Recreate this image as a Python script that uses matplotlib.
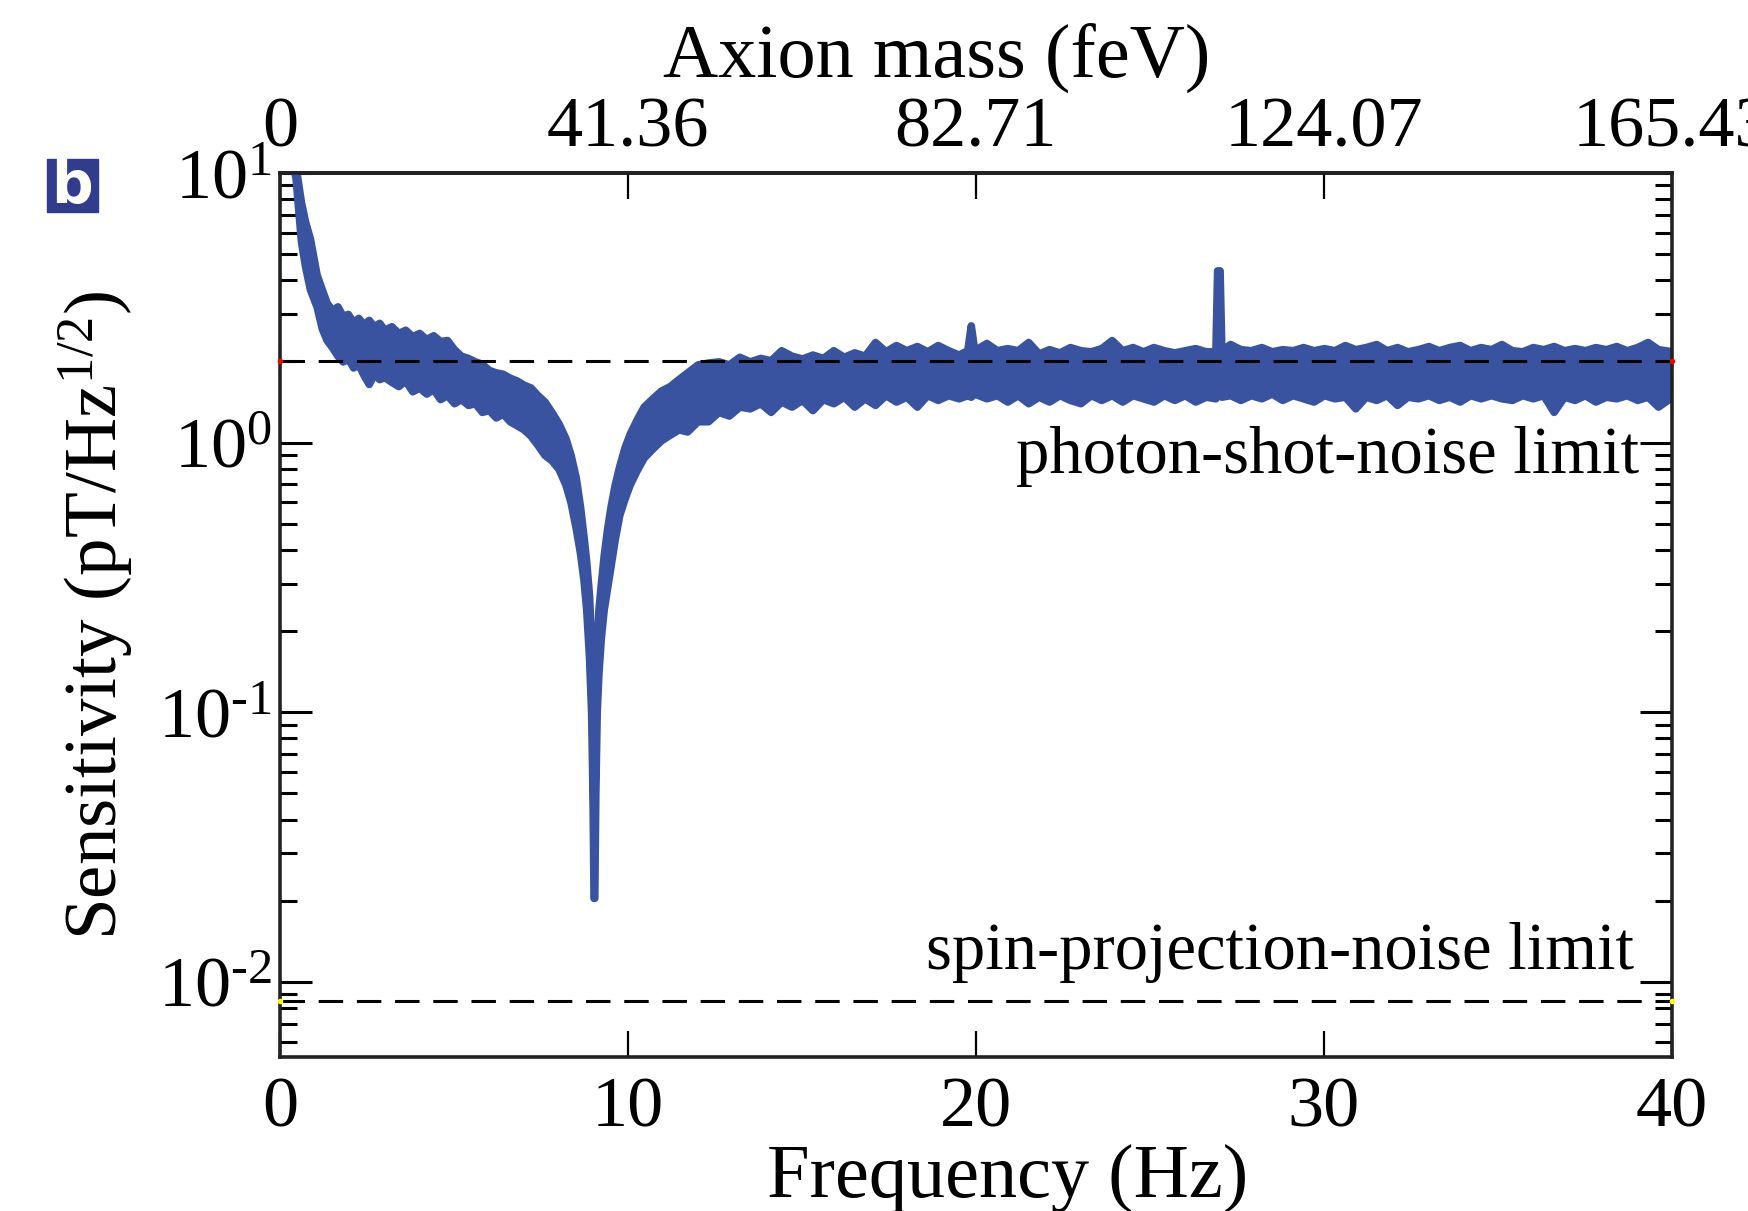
import numpy as np
import matplotlib
matplotlib.use('Agg')
import matplotlib.pyplot as plt
from matplotlib.ticker import LogLocator, NullFormatter, FixedLocator, FixedFormatter
from matplotlib.patches import Rectangle

# --- data (Hz, pT/Hz^1/2) ---
# band edges of the noisy trace: decay part
freq_a = [0.30, 0.45, 0.60, 0.72, 0.86, 1.05, 1.2, 1.34, 1.5, 1.65,
          1.8, 1.95, 2.1, 2.25, 2.4, 2.55, 2.7, 2.85, 3.0, 3.2,
          3.4, 3.6, 3.8, 4.0, 4.2, 4.4, 4.6, 4.8, 5.0, 5.2,
          5.4, 5.6, 5.8, 6.0, 6.2, 6.4, 6.6, 6.8, 7.0, 7.2,
          7.4, 7.6, 7.8, 8.0]
upper_a = [12, 10.5, 7.8, 6.6, 5.7, 4.2, 3.7, 3.3, 3.1, 3.2,
           2.95, 3.0, 2.8, 2.9, 2.75, 2.85, 2.7, 2.78, 2.62, 2.7,
           2.55, 2.62, 2.48, 2.55, 2.42, 2.5, 2.38, 2.4, 2.22, 2.1,
           2.06, 2.0, 1.96, 1.86, 1.82, 1.8, 1.74, 1.7, 1.64, 1.6,
           1.5, 1.42, 1.3, 1.18]
lower_a = [12, 9.5, 5.6, 4.5, 3.7, 3.2, 2.65, 2.4, 2.25, 2.1,
           2.0, 2.05, 1.9, 1.95, 1.78, 1.65, 1.8, 1.72, 1.75, 1.68,
           1.62, 1.7, 1.55, 1.6, 1.52, 1.58, 1.45, 1.5, 1.4, 1.45,
           1.38, 1.4, 1.3, 1.32, 1.24, 1.28, 1.2, 1.16, 1.12, 1.06,
           0.98, 0.9, 0.86, 0.8]

# the resonance dip near 9 Hz
freq_b = [8.2, 8.35, 8.5, 8.62, 8.72, 8.8, 8.88, 8.94, 8.98, 9.01,
          9.03, 9.06, 9.1, 9.15, 9.22, 9.3, 9.4, 9.5, 9.62, 9.75,
          9.9, 10.05, 10.25, 10.45, 10.7, 10.95, 11.2, 11.45, 11.7, 12.0]
upper_b = [1.04, 0.9, 0.74, 0.58, 0.45, 0.36, 0.27, 0.18, 0.1, 0.035,
           0.035, 0.1, 0.17, 0.24, 0.3, 0.38, 0.48, 0.58, 0.7, 0.82,
           0.96, 1.08, 1.22, 1.36, 1.46, 1.56, 1.62, 1.72, 1.82, 1.95]
lower_b = [0.7, 0.6, 0.48, 0.39, 0.31, 0.24, 0.16, 0.1, 0.05, 0.0205,
           0.0205, 0.05, 0.1, 0.14, 0.19, 0.24, 0.29, 0.35, 0.44, 0.54,
           0.62, 0.7, 0.79, 0.88, 0.95, 1.02, 1.07, 1.12, 1.1, 1.2]

# flat part, 12-40 Hz (with the small line at 19.85 Hz and the peak at 27 Hz)
freq_c = [12.3, 12.6, 12.9, 13.2, 13.5, 13.8, 14.1, 14.4, 14.7, 15.0,
          15.3, 15.6, 15.9, 16.2, 16.5, 16.8, 17.1, 17.4, 17.7, 18.0,
          18.3, 18.6, 18.9, 19.2, 19.5, 19.75, 19.85, 19.95, 20.3, 20.6,
          20.9, 21.2, 21.5, 21.8, 22.1, 22.4, 22.7, 23.0, 23.3, 23.6,
          23.9, 24.2, 24.5, 24.8, 25.1, 25.4, 25.7, 26.0, 26.3, 26.6,
          26.88, 26.93, 27.0, 27.05, 27.3, 27.6, 27.9, 28.2, 28.5, 28.8,
          29.1, 29.4, 29.7, 30.0, 30.3, 30.6, 30.9, 31.2, 31.5, 31.8,
          32.1, 32.4, 32.7, 33.0, 33.3, 33.6, 33.9, 34.2, 34.5, 34.8,
          35.1, 35.4, 35.7, 36.0, 36.3, 36.6, 36.9, 37.2, 37.5, 37.8,
          38.1, 38.4, 38.7, 39.0, 39.3, 39.6, 40.0]
upper_c = [1.98, 2.0, 1.95, 2.08, 2.0, 2.06, 2.02, 2.2, 2.1, 2.05,
           2.12, 2.06, 2.2, 2.08, 2.16, 2.1, 2.36, 2.18, 2.3, 2.2,
           2.28, 2.18, 2.3, 2.2, 2.12, 2.2, 2.72, 2.2, 2.34, 2.2,
           2.24, 2.2, 2.36, 2.14, 2.22, 2.16, 2.26, 2.2, 2.18, 2.24,
           2.4, 2.2, 2.26, 2.18, 2.26, 2.2, 2.16, 2.2, 2.24, 2.18,
           2.18, 4.35, 4.35, 2.2, 2.32, 2.22, 2.2, 2.26, 2.18, 2.22,
           2.2, 2.26, 2.2, 2.24, 2.2, 2.3, 2.22, 2.26, 2.32, 2.2,
           2.26, 2.18, 2.22, 2.28, 2.2, 2.26, 2.3, 2.2, 2.26, 2.22,
           2.32, 2.2, 2.18, 2.26, 2.22, 2.28, 2.2, 2.24, 2.2, 2.26,
           2.22, 2.28, 2.2, 2.26, 2.36, 2.22, 2.18]
lower_c = [1.2, 1.3, 1.26, 1.36, 1.34, 1.4, 1.3, 1.42, 1.36, 1.44,
           1.32, 1.45, 1.4, 1.48, 1.36, 1.46, 1.38, 1.5, 1.42, 1.48,
           1.36, 1.5, 1.44, 1.5, 1.46, 1.5, 1.48, 1.52, 1.46, 1.5,
           1.42, 1.5, 1.4, 1.48, 1.42, 1.5, 1.44, 1.4, 1.5, 1.44,
           1.5, 1.42, 1.5, 1.46, 1.42, 1.5, 1.44, 1.5, 1.42, 1.48,
           1.46, 1.5, 1.5, 1.48, 1.5, 1.44, 1.5, 1.46, 1.52, 1.44,
           1.5, 1.46, 1.42, 1.5, 1.46, 1.48, 1.34, 1.48, 1.44, 1.5,
           1.38, 1.48, 1.46, 1.5, 1.44, 1.48, 1.42, 1.5, 1.46, 1.5,
           1.46, 1.44, 1.5, 1.46, 1.5, 1.3, 1.48, 1.44, 1.5, 1.42,
           1.48, 1.46, 1.5, 1.44, 1.48, 1.36, 1.48]

photon_limit = 2.0
spin_limit = 0.0085

freq_ticks = [0, 10, 20, 30, 40]
mass_ticks = [0, 41.36, 82.71, 124.07, 165.43]   # feV, top axis
mass_labels = ['0', '41.36', '82.71', '124.07', '165.43']
y_ticks = [1e-2, 1e-1, 1e0, 1e1]
y_labels = [r'$10^{\text{-}2}$', r'$10^{\text{-}1}$', r'$10^{0}$', r'$10^{1}$']
ev_per_hz = 165.43 / 40

plt.rcParams['font.family'] = ['Liberation Serif', 'DejaVu Serif']
plt.rcParams['mathtext.fontset'] = 'custom'
plt.rcParams['mathtext.rm'] = 'Liberation Serif'
plt.rcParams['mathtext.it'] = 'Liberation Serif:italic'

fig = plt.figure(figsize=(17.48, 12.11), dpi=100)
ax = fig.add_axes([0.1602, 0.1272, 0.7963, 0.7300])

freq = np.concatenate([freq_a, freq_b, freq_c])
upper = np.concatenate([upper_a, upper_b, upper_c])
lower = np.concatenate([lower_a, lower_b, lower_c])

blue = '#3953a0'
ax.fill_between(freq, lower, upper, facecolor=blue, edgecolor=blue,
                linewidth=5.5, joinstyle='round', zorder=2)

ax.axhline(photon_limit, color='k', lw=2.2, dashes=(8, 4.5), zorder=3)
ax.axhline(spin_limit, color='k', lw=2.2, dashes=(8, 4.5), zorder=3)
ax.plot([0, 40], [photon_limit, photon_limit], 'o', color='red', ms=3,
        clip_on=False, zorder=4)
ax.plot([0, 40], [spin_limit, spin_limit], 'o', color='yellow', ms=3,
        clip_on=False, zorder=4)

ax.text(39.05, 0.887, 'photon-shot-noise limit', fontsize=48,
        ha='right', va='center')
ax.text(38.9, 0.0129, 'spin-projection-noise limit', fontsize=48,
        ha='right', va='center')

ax.set_yscale('log')
ax.set_xlim(0, 40)
ax.set_ylim(0.00527, 10)

ax.xaxis.set_major_locator(FixedLocator(freq_ticks))
ax.yaxis.set_major_locator(FixedLocator(y_ticks))
ax.yaxis.set_major_formatter(FixedFormatter(y_labels))
ax.yaxis.set_minor_locator(LogLocator(base=10, subs=range(2, 10)))
ax.yaxis.set_minor_formatter(NullFormatter())

ax.tick_params(axis='x', which='major', direction='in', length=19, width=1.6,
               labelsize=52, pad=14, top=False)
ax.tick_params(axis='y', which='major', direction='in', length=23, width=2.2,
               labelsize=52, pad=6, right=True)
ax.tick_params(axis='y', which='minor', direction='in', length=12, width=2.2,
               right=True)
for s in ax.spines.values():
    s.set_linewidth(2.6)
    s.set_color('#222222')

secax = ax.secondary_xaxis('top', functions=(lambda f: f * ev_per_hz,
                                             lambda m: m / ev_per_hz))
secax.xaxis.set_major_locator(FixedLocator(mass_ticks))
secax.xaxis.set_major_formatter(FixedFormatter(mass_labels))
secax.tick_params(direction='in', length=19, width=1.6, labelsize=52, pad=8)
secax.set_xlabel('Axion mass (feV)', fontsize=55, labelpad=14)
secax.xaxis.label.set_x(0.472)
secax.spines['top'].set_linewidth(2.6)

ax.set_xlabel('Frequency (Hz)', fontsize=55, labelpad=2)
ax.xaxis.label.set_x(0.523)
ax.set_ylabel('Sensitivity (pT/Hz$^{1/2}$)', fontsize=54, labelpad=16)

# panel tag
fig.patches.append(Rectangle((47 / 1748, 1 - 212 / 1211), 51 / 1748, 53 / 1211,
                             transform=fig.transFigure, color='#323c8c'))
fig.text(72.5 / 1748, 1 - 187 / 1211, 'b', color='white', fontsize=42,
         fontweight='bold', family='DejaVu Sans', ha='center', va='center')

fig.savefig('out.png', dpi=100)
